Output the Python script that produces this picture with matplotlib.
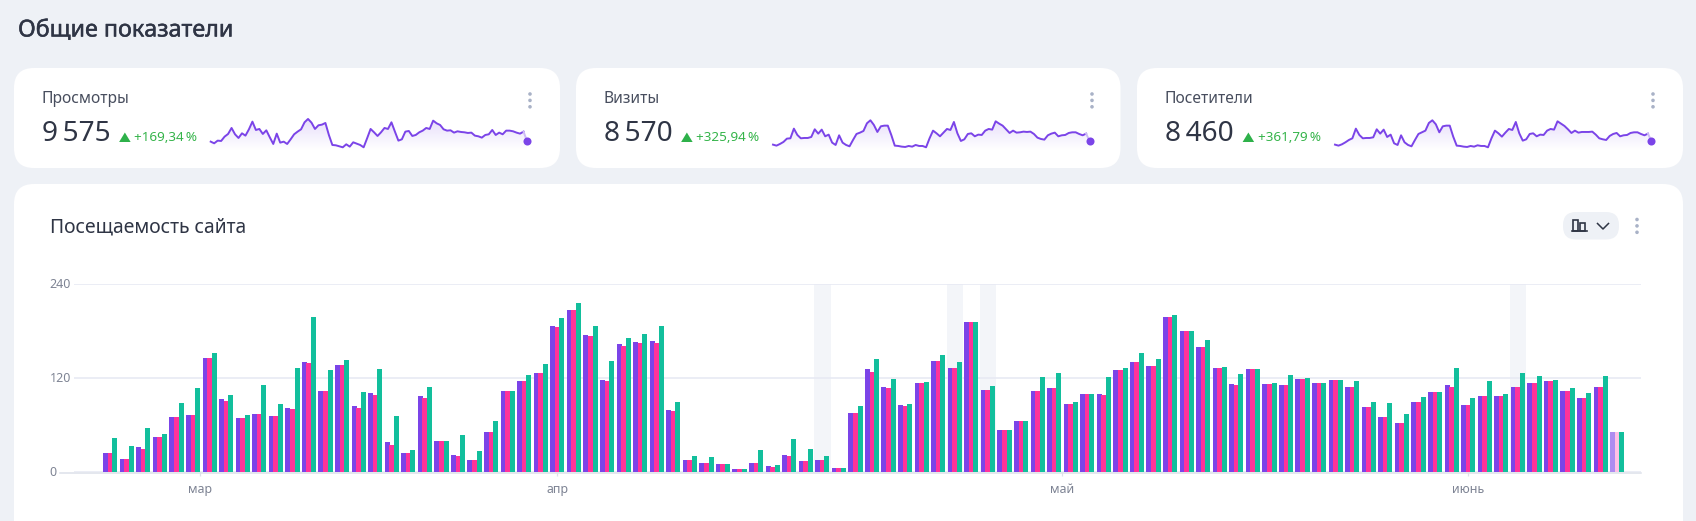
import numpy as np
import matplotlib
matplotlib.use('Agg')
import matplotlib.pyplot as plt
import matplotlib.patheffects as pe
from matplotlib.patches import FancyBboxPatch, Polygon, Rectangle, Circle
from matplotlib.colors import LinearSegmentedColormap

W, H = 1696, 521

# Bars: views, visits, visitors per day
purple_vals = [24, 17, 32, 45, 70, 73, 146, 93, 69, 74, 72, 82, 141, 104, 137, 84, 101, 38, 24, 97,
               40, 22, 15, 51, 104, 116, 127, 187, 207, 175, 118, 164, 166, 168, 79, 15, 12, 10, 4, 12,
               8, 22, 14, 15, 5, 75, 132, 109, 86, 114, 142, 133, 192, 105, 54, 65, 104, 107, 87, 100,
               100, 130, 141, 136, 198, 180, 160, 133, 113, 132, 113, 111, 119, 114, 118, 109, 83, 70, 63, 90,
               102, 111, 86, 97, 97, 109, 114, 116, 104, 95, 109, 51]
pink_vals = [24, 17, 29, 45, 70, 73, 146, 91, 69, 74, 72, 81, 139, 104, 137, 82, 98, 35, 24, 95,
             40, 20, 15, 51, 104, 116, 127, 185, 207, 174, 116, 161, 165, 165, 78, 15, 12, 10, 4, 12,
             6, 20, 14, 15, 5, 75, 128, 107, 84, 114, 142, 133, 192, 105, 54, 65, 104, 107, 87, 100,
             98, 130, 141, 136, 198, 180, 160, 133, 111, 132, 113, 111, 119, 114, 118, 109, 83, 70, 63, 90,
             102, 109, 86, 97, 97, 109, 114, 116, 104, 95, 109, 51]
green_vals = [43, 33, 56, 49, 88, 107, 152, 98, 73, 111, 87, 133, 198, 130, 143, 102, 132, 72, 28, 109,
              40, 47, 27, 65, 104, 124, 138, 197, 216, 187, 142, 171, 176, 187, 90, 20, 19, 10, 4, 28,
              9, 42, 29, 20, 5, 84, 144, 119, 87, 115, 150, 141, 192, 110, 54, 65, 121, 127, 90, 100,
              121, 133, 152, 144, 201, 180, 169, 134, 125, 132, 114, 124, 120, 114, 118, 116, 90, 88, 74, 96,
              102, 133, 95, 116, 100, 127, 123, 118, 107, 101, 123, 51]
highlight_days = [43, 51, 53, 85]
y_ticks = [0, 120, 240]
month_labels = ['мар', 'апр', 'май', 'июнь']
month_pos = [5.44, 27.0, 57.5, 82.0]

# Small line charts in the cards
spark_views = [35, 30, 38, 37, 50, 58, 76, 57, 46, 60,
               53, 72, 95, 70, 73, 58, 69, 48, 28, 59,
               32, 35, 28, 42, 57, 65, 72, 93, 103, 92,
               73, 84, 86, 91, 55, 25, 24, 21, 18, 27,
               20, 33, 29, 25, 18, 45, 73, 63, 52, 63,
               76, 73, 93, 65, 38, 42, 65, 67, 52, 55,
               63, 68, 76, 73, 98, 90, 85, 72, 68, 69,
               62, 66, 64, 63, 61, 62, 53, 51, 47, 55,
               57, 70, 55, 62, 57, 68, 68, 66, 62, 59,
               65, 37]
spark_visits = [26, 23, 28, 34, 44, 45, 74, 55, 45, 46,
                46, 49, 72, 59, 71, 51, 56, 32, 25, 54,
                32, 25, 21, 40, 58, 62, 67, 90, 99, 85,
                64, 81, 83, 83, 55, 23, 22, 20, 19, 22,
                20, 25, 22, 22, 18, 45, 68, 60, 51, 62,
                73, 70, 94, 60, 37, 42, 58, 60, 51, 56,
                55, 68, 73, 71, 96, 89, 83, 72, 61, 68,
                62, 63, 65, 64, 65, 58, 47, 43, 41, 54,
                59, 62, 51, 54, 55, 61, 63, 63, 58, 54,
                59, 37]
spark_users = [26, 23, 27, 33, 40, 45, 74, 55, 45, 46,
               46, 48, 72, 59, 71, 49, 56, 30, 25, 54,
               33, 25, 21, 40, 58, 63, 68, 91, 99, 87,
               63, 81, 83, 83, 50, 23, 22, 20, 19, 22,
               20, 24, 22, 22, 18, 45, 68, 60, 50, 62,
               73, 70, 94, 60, 38, 42, 58, 60, 51, 56,
               55, 68, 73, 71, 96, 89, 82, 72, 61, 68,
               62, 64, 64, 64, 65, 56, 45, 42, 40, 52,
               58, 61, 51, 54, 55, 61, 63, 63, 58, 54,
               59, 37]

card_titles = ['Просмотры', 'Визиты', 'Посетители']
card_totals = ['9\u2009575', '8\u2009570', '8\u2009460']
card_deltas = ['+169,34\u2009%', '+325,94\u2009%', '+361,79\u2009%']

BG = '#EEF1F6'
DARK = '#2F3545'
PURPLE = '#7B44E8'
PINK = '#FF3399'
GREEN = '#12BF9C'
DELTA = '#35B44A'
DOTS = '#A9B2C7'

plt.rcParams['font.family'] = ['Noto Sans', 'DejaVu Sans']

fig = plt.figure(figsize=(W / 100, H / 100), dpi=100, facecolor=BG)

# Page layer in pixel coordinates
page = fig.add_axes([0, 0, 1, 1], zorder=0)
page.set_xlim(0, W)
page.set_ylim(H, 0)
page.axis('off')


def px(size):
    return size * 0.72


def round_box(x0, y0, x1, y1, r, color):
    page.add_patch(FancyBboxPatch((x0 + r, y0 + r), x1 - x0 - 2 * r, y1 - y0 - 2 * r,
                                  boxstyle='round,pad=%f,rounding_size=%f' % (r, r),
                                  fc=color, ec='none'))


def three_dots(x, y):
    for k in range(3):
        page.add_patch(Circle((x, y + k * 6.4), 1.8, fc=DOTS, ec='none'))


def sub_axes(x0, y0, x1, y1):
    # y0 is the top edge and y1 the bottom edge, both in pixels from the top
    return fig.add_axes([x0 / W, 1 - y1 / H, (x1 - x0) / W, (y1 - y0) / H], zorder=2)


def sparkline(vals, x0, x1):
    ax = sub_axes(x0, 153.3 - 110 / 3, x1, 153.3)
    ax.axis('off')
    xs = np.arange(len(vals))
    cmap = LinearSegmentedColormap.from_list('fade', ['#FFFFFF', '#E7DEFB'])
    grad = ax.imshow(np.linspace(1, 0, 64).reshape(-1, 1), extent=(0, len(vals) - 1, 10, 105),
                     aspect='auto', cmap=cmap, vmin=0, vmax=1, zorder=1)
    shape = Polygon(np.column_stack([np.r_[xs, xs[-1], 0], np.r_[vals, 10, 10]]),
                    closed=True, transform=ax.transData, fc='none', ec='none')
    ax.add_patch(shape)
    grad.set_clip_path(shape)
    ax.set_xlim(0, len(vals) - 1)
    ax.set_ylim(0, 110)
    ax.plot(xs[:-1], vals[:-1], color=PURPLE, lw=1.4, solid_joinstyle='round', zorder=2, clip_on=False)
    ax.plot(xs[-2:], vals[-2:], color='#CDBBF6', lw=1.4, zorder=2, clip_on=False)
    ax.plot(xs[-1:], vals[-1:], 'o', color=PURPLE, ms=5.8, mew=0, clip_on=False, zorder=3)


# Cards
card_boxes = [(14, 560), (576, 1120.5), (1137, 1683)]
title_x = [41.5, 603.5, 1165]
spark_spans = [(210.7, 527), (773, 1089.6), (1335, 1651.4)]
spark_data = [spark_views, spark_visits, spark_users]

page.text(18, 36.5, 'Общие показатели', fontsize=px(23.3), color=DARK, va='baseline',
          path_effects=[pe.withStroke(linewidth=0.35, foreground=DARK)])

for i in range(3):
    x0, x1 = card_boxes[i]
    round_box(x0, 68, x1, 168, 20, 'white')
    tx = title_x[i]
    page.text(tx, 103, card_titles[i], fontsize=px(15.6), color='#484E5E', va='baseline')
    total = page.text(tx, 140.7, card_totals[i], fontsize=px(28), color=DARK, va='baseline')
    fig.canvas.draw()
    right_edge = total.get_window_extent().x1 * W / fig.bbox.width
    page.add_patch(Polygon([(right_edge + 9, 142), (right_edge + 20.5, 142), (right_edge + 14.75, 132.5)],
                           closed=True, fc='#2EB14A', ec='none'))
    page.text(right_edge + 24, 141.2, card_deltas[i], fontsize=px(13.4), color=DELTA, va='baseline')
    three_dots(x0 + 516, 94)
    sparkline(spark_data[i], spark_spans[i][0], spark_spans[i][1])

# Big card, runs off the bottom of the picture
round_box(14, 184, 1683, 560, 20, 'white')
page.text(50.5, 232, 'Посещаемость сайта', fontsize=px(19.3), color=DARK, va='baseline')
round_box(1563, 212, 1619, 239.5, 13, BG)
three_dots(1637, 219.5)

# Chart type button icon
for bx, bt, bb in [(1573, 219.5, 230.5), (1580, 223, 230.5)]:
    page.add_patch(Rectangle((bx, bt), 5, bb - bt, fc='none', ec=DARK, lw=1.2))
page.plot([1572, 1587], [230.5, 230.5], color=DARK, lw=1.2)
page.plot([1597.5, 1603, 1608.5], [223.5, 229, 223.5], color=DARK, lw=1.1)

# Main bar chart
left, right = 74, 1641
step = 16.56
first_center = 110.25
ax = sub_axes(left, 284.3, right, 472)
ax.patch.set_alpha(0)
ax.set_xlim((left - first_center) / step, (right - first_center) / step)
ax.set_ylim(0, 240)

days = np.arange(len(purple_vals))
bar_w = 5 / step
off = 4.6 / step
purple_cols = [PURPLE] * (len(days) - 1) + ['#AE8CF0']
pink_cols = [PINK] * (len(days) - 1) + ['#FFC0E6']

for d in highlight_days:
    ax.axvspan(d - 0.5, d + 0.5, color='#F3F5F9', lw=0, zorder=0)
ax.bar(days - off, purple_vals, bar_w, color=purple_cols, zorder=3)
ax.bar(days, pink_vals, bar_w, color=pink_cols, zorder=4)
ax.bar(days + off, green_vals, bar_w, color=GREEN, zorder=5)

ax.set_yticks(y_ticks)
ax.set_yticklabels([])
ax.grid(axis='y', color='#E6E8F3', lw=1.1, zorder=1)
ax.set_axisbelow(False)
for line in ax.get_ygridlines():
    line.set_zorder(1)
for s in ax.spines.values():
    s.set_visible(False)
ax.tick_params(axis='y', length=0)
ax.set_xticks(month_pos)
ax.set_xticklabels(month_labels, fontsize=px(12.5), color='#7E8494')
ax.tick_params(axis='x', length=3, width=0.9, color='#DDE0EA', pad=5)

page.plot([60, right], [472.5, 472.5], color='#DDE0EA', lw=1.1, zorder=5)
for v, y in zip(y_ticks, [472, 378.2, 284.3]):
    page.text(49.5, y, str(v), fontsize=px(12.5), color='#7E8494', va='center', ha='left')

fig.savefig('out.png', dpi=100, facecolor=BG)
